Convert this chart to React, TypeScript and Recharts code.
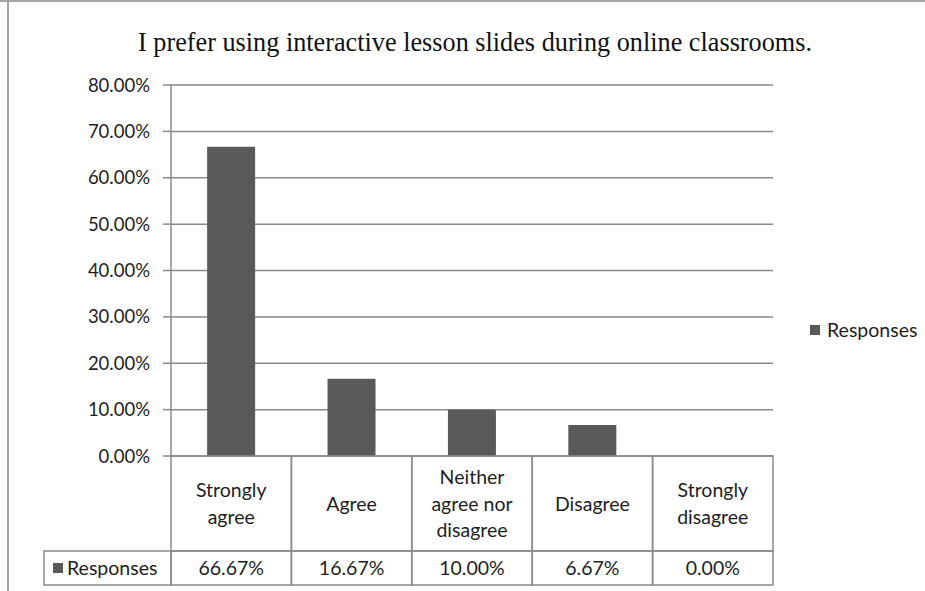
import React from 'react';
import { BarChart, Bar, XAxis, YAxis, CartesianGrid, Customized } from 'recharts';

const title = 'I prefer using interactive lesson slides during online classrooms.';
const seriesName = 'Responses';
const categories = ['Strongly agree', 'Agree', 'Neither agree nor disagree', 'Disagree', 'Strongly disagree'];
const categoryLines = [['Strongly', 'agree'], ['Agree'], ['Neither', 'agree nor', 'disagree'], ['Disagree'], ['Strongly', 'disagree']];
const responses = [66.67, 16.67, 10.0, 6.67, 0.0];
const yTicks = [0, 10, 20, 30, 40, 50, 60, 70, 80];

const data = categories.map((c, i) => ({ category: c, lines: categoryLines[i], Responses: responses[i] }));

const W = 925;
const H = 591;
const MARGIN = { top: 85, right: 152, bottom: 5, left: 0 };
const Y_AXIS_W = 171;
const X_AXIS_H = 130;
const HEADER_H = 95;
const PLOT_W = W - MARGIN.right - MARGIN.left - Y_AXIS_W;
const CELL_W = PLOT_W / categories.length;
const LINE = '#8a8a8a';
const BAR = '#595959';
const TEXT = '#1e1e1e';
const FONT = 'Lato, "Noto Sans", sans-serif';
const FS = 18.5;
const FS_T = 19.5;

const fmt = (v: number) => `${v.toFixed(2)}%`;

const TableTick = (props: any) => {
  const { x, y, payload, index } = props;
  const row = data[index] || data.find((d) => d.category === payload.value);
  const lines: string[] = row ? row.lines : [String(payload.value)];
  const left = x - CELL_W / 2;
  const lh = 26.7;
  const cy = y + HEADER_H / 2;
  const startY = cy - ((lines.length - 1) * lh) / 2 + FS_T * 0.36;
  const valH = X_AXIS_H - HEADER_H - 1;
  const valY = y + HEADER_H + valH / 2 + FS_T * 0.36;
  return (
    <g>
      <rect x={left} y={y} width={CELL_W} height={HEADER_H} fill="none" stroke={LINE} strokeWidth={1.5} />
      <rect x={left} y={y + HEADER_H} width={CELL_W} height={valH} fill="none" stroke={LINE} strokeWidth={1.5} />
      {lines.map((l, i) => (
        <text key={i} x={x} y={startY + i * lh} textAnchor="middle" fontFamily={FONT} fontSize={FS_T} fill={TEXT}>
          {l}
        </text>
      ))}
      <text x={x} y={valY} textAnchor="middle" fontFamily={FONT} fontSize={FS_T} fill={TEXT}>
        {row ? fmt(row.Responses) : ''}
      </text>
      {index === 0 && (
        <g>
          <rect x={44} y={y + HEADER_H} width={left - 44} height={valH} fill="none" stroke={LINE} strokeWidth={1.5} />
          <rect x={53} y={y + HEADER_H + 12} width={10} height={10} fill={BAR} />
          <text x={67} y={valY} fontFamily={FONT} fontSize={FS_T} fill={TEXT}>
            {seriesName}
          </text>
        </g>
      )}
    </g>
  );
};

const TitleText = () => (
  <text x={475} y={51} textAnchor="middle" fontFamily='"Liberation Serif", "Times New Roman", serif' fontSize={27.5} fill="#111" textLength={674} lengthAdjust="spacingAndGlyphs">
    {title}
  </text>
);

const Frame = () => (
  <g>
    <line x1={0} y1={1} x2={W} y2={1} stroke={LINE} strokeWidth={1.5} />
    <line x1={8} y1={1} x2={8} y2={H} stroke={LINE} strokeWidth={1.5} />
  </g>
);

const SideLegend = () => (
  <g>
    <rect x={810} y={325} width={10} height={10} fill={BAR} />
    <text x={827} y={337} fontFamily={FONT} fontSize={FS_T} fill={TEXT}>
      {seriesName}
    </text>
  </g>
);

export default function App() {
  return (
    <div style={{ position: 'absolute', left: 0, top: 0, width: W, height: H, background: '#fff' }}>
      <BarChart width={W} height={H} data={data} margin={MARGIN} barCategoryGap="30%">
        <Customized component={<Frame />} />
        <Customized component={<TitleText />} />
        <Customized component={<SideLegend />} />
        <CartesianGrid vertical={false} stroke={LINE} strokeWidth={1.5} />
        <XAxis
          dataKey="category"
          height={X_AXIS_H}
          axisLine={false}
          tickLine={false}
          tickSize={0}
          tickMargin={0}
          interval={0}
          tick={<TableTick />}
        />
        <YAxis
          width={Y_AXIS_W}
          domain={[0, 80]}
          ticks={yTicks}
          tickFormatter={fmt}
          axisLine={{ stroke: LINE, strokeWidth: 1.5 }}
          tickLine={{ stroke: LINE, strokeWidth: 1.5 }}
          tickSize={8}
          tickMargin={13}
          tick={{ fontFamily: FONT, fontSize: FS, fill: TEXT }}
          interval={0}
        />
        <Bar dataKey="Responses" name={seriesName} fill={BAR} isAnimationActive={false} />
      </BarChart>
    </div>
  );
}
